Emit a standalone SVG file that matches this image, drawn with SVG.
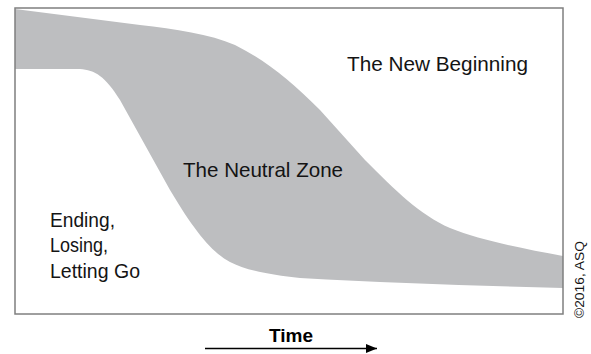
<svg xmlns="http://www.w3.org/2000/svg" width="591" height="354" viewBox="0 0 591 354">
  <style>
    .lbl { font-family: "Liberation Sans", Arial, sans-serif; font-size: 21px; fill: #141414; }
    .time { font-family: "Liberation Sans", Arial, sans-serif; font-size: 19px; font-weight: bold; fill: #000; }
    .copy { font-family: "Liberation Sans", Arial, sans-serif; font-size: 12px; fill: #141414; }
    .band { fill: #bdbec0; stroke: none; }
    .frame { fill: none; stroke: #7f7f7f; stroke-width: 1.5; }
    .conn { stroke: #000; stroke-width: 1.5; fill: none; }
  </style>
  <defs>
    <marker id="arrow" markerWidth="12" markerHeight="10" refX="11" refY="4.5" orient="auto" markerUnits="userSpaceOnUse">
      <path d="M0,0 L11,4.5 L0,9 Z" fill="#000"/>
    </marker>
  </defs>
  <rect width="591" height="354" fill="#fff"/>
  <g id="band">
    <path class="band" d="M15,9 L140,25 C175,29 210,34 235,45 C265,60 290,80 320,110 L365,160 C395,190 420,215 450,228 C480,240 520,248 563,256 L563,288 C480,286 390,283 300,278 C270,275 245,270 230,262 C212,252.4 195,232 170,190 L120,100 C105,76 95,70 80,69 L15,69 Z"/>
  </g>
  <g id="frame">
    <rect class="frame" x="15" y="8" width="548" height="306"/>
  </g>
  <g id="new-beginning">
    <text class="lbl" x="347" y="71" textLength="181" lengthAdjust="spacingAndGlyphs">The New Beginning</text>
  </g>
  <g id="neutral-zone">
    <text class="lbl" x="183" y="177" textLength="160" lengthAdjust="spacingAndGlyphs">The Neutral Zone</text>
  </g>
  <g id="ending">
    <text class="lbl" x="50" y="227" textLength="65" lengthAdjust="spacingAndGlyphs">Ending,</text>
    <text class="lbl" x="50" y="252" textLength="58" lengthAdjust="spacingAndGlyphs">Losing,</text>
    <text class="lbl" x="50" y="277.5" textLength="90" lengthAdjust="spacingAndGlyphs">Letting Go</text>
  </g>
  <g id="time">
    <text class="time" x="269" y="342" textLength="44" lengthAdjust="spacingAndGlyphs">Time</text>
  </g>
  <g id="connectors">
    <line class="conn" x1="205" y1="348.5" x2="377" y2="348.5" marker-end="url(#arrow)"/>
  </g>
  <g id="copyright">
    <text class="copy" transform="translate(583.5,318) rotate(-90)" x="0" y="0" textLength="77" lengthAdjust="spacingAndGlyphs">©2016, ASQ</text>
  </g>
</svg>
